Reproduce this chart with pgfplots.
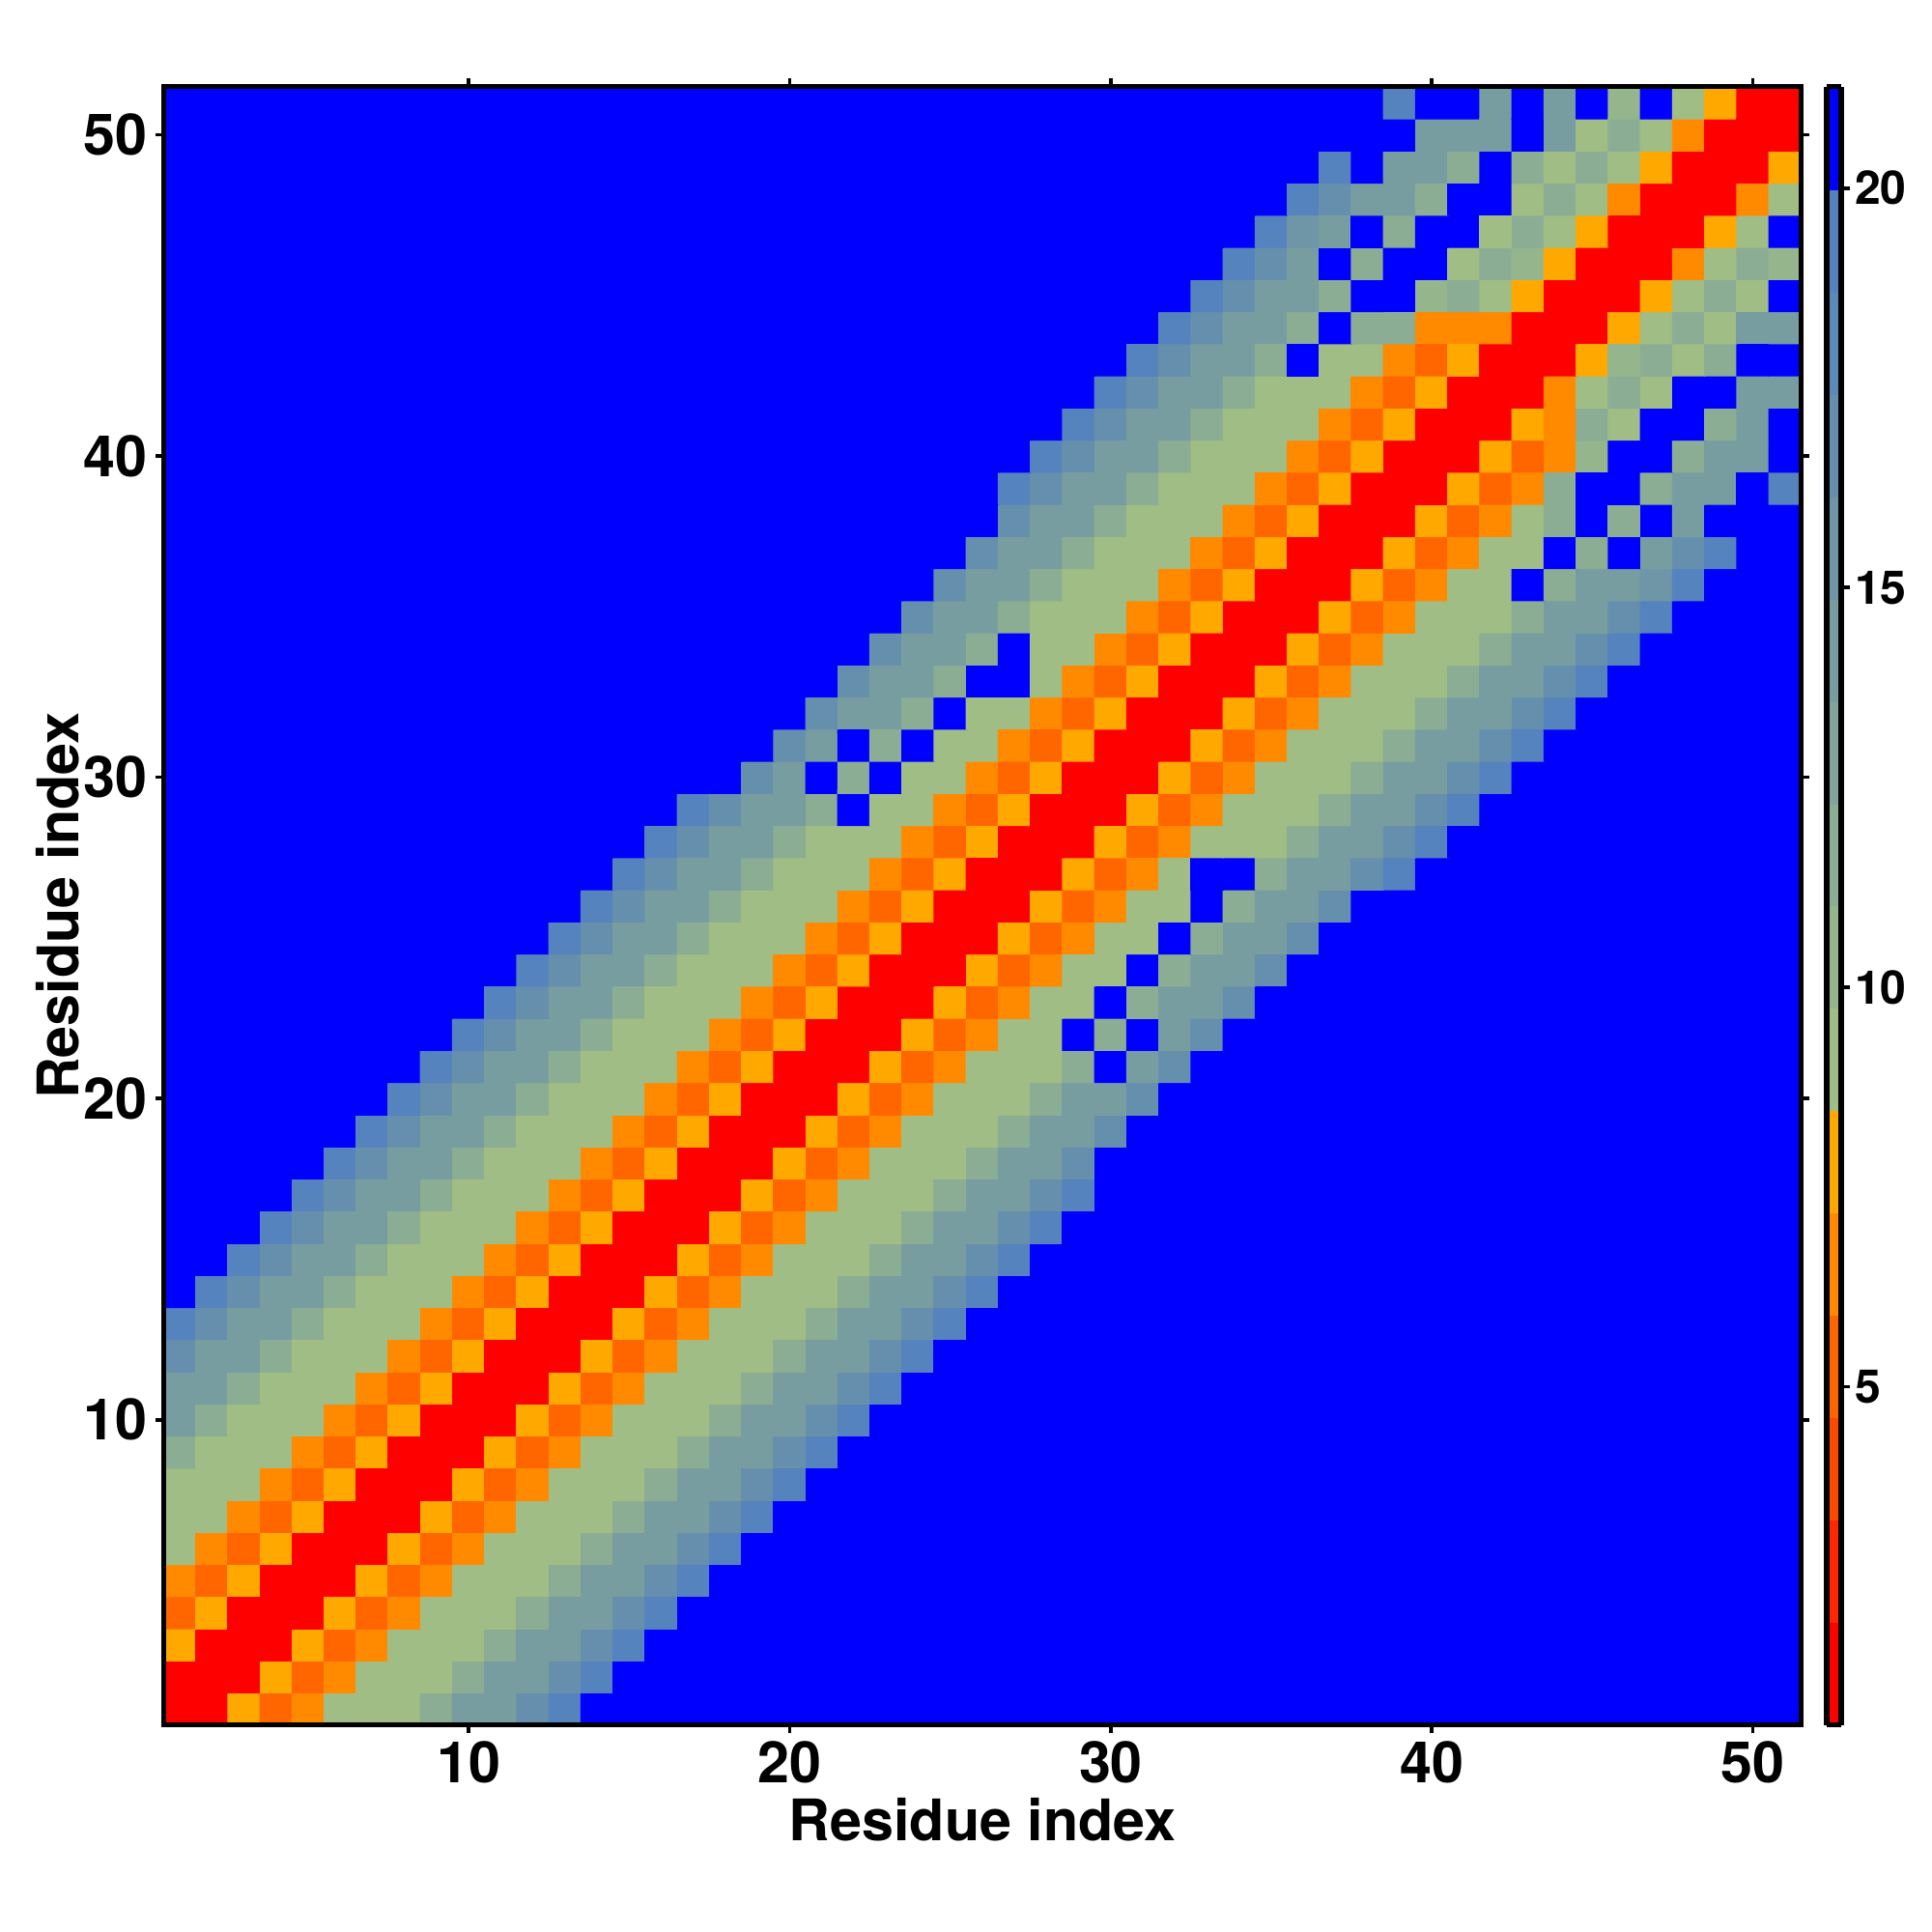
\documentclass[border=0pt]{standalone}
\usepackage{fontspec}
\setmainfont{TeX Gyre Heros}
\usepackage{pgfplots}
\pgfplotsset{compat=1.18}
\pgfplotsset{
  colormap={dist}{
    rgb255=(255,0,0) rgb255=(255,38,0) rgb255=(255,72,0) rgb255=(255,102,0)
    rgb255=(255,138,0) rgb255=(255,168,0) rgb255=(160,189,133) rgb255=(149,181,140)
    rgb255=(139,173,147) rgb255=(129,165,154) rgb255=(120,157,161) rgb255=(111,150,167)
    rgb255=(102,143,174) rgb255=(93,137,182) rgb255=(84,131,189) rgb255=(0,0,255)
  }
}
\begin{document}
\begin{tikzpicture}
\begin{axis}[name=main,
  at={(0,0)}, anchor=south west,
  scale only axis, width=457.7pt, height=458pt,
  xmin=0.5, xmax=51.5, ymin=0.5, ymax=51.5,
  xtick={10,20,30,40,50}, ytick={10,20,30,40,50},
  tick align=outside, major tick length=2.4pt,
  tick style={black, line width=1pt},
  axis line style={line width=1.5pt},
  axis on top,
  /pgf/number format/assume math mode=true,
  tick label style={font=\fontsize{16}{19}\selectfont\bfseries, inner sep=2pt},
  label style={font=\fontsize{16}{19}\selectfont\bfseries},
  xlabel={Residue index}, ylabel={Residue index},
  xlabel style={at={(axis description cs:0.5,-0.058)}, anchor=center},
  ylabel style={at={(axis description cs:-0.0647,0.5)}, anchor=center},
  colormap name=dist, colormap access=piecewise constant,
  point meta min=0.77, point meta max=21.27,
  colorbar,
  colorbar style={
    at={(parent axis.north east)}, anchor=north west, xshift=-1.4pt,
    width=4.1pt,
    ytick={5,10,15,20},
    ytick pos=right, yticklabel pos=right,
    tick align=outside, major tick length=2.4pt,
    tick style={black, line width=1pt},
    axis line style={line width=1.5pt},
    /pgf/number format/assume math mode=true,
    yticklabel style={font=\fontsize{13}{15}\selectfont\bfseries, inner sep=1.2pt},
  },
]
\addplot[matrix plot*, mesh/cols=51, point meta=explicit]
  table[header=false, row sep=\\, x expr={mod(\coordindex,51)+1}, y expr={floor((\coordindex+0.5)/51)+1}, meta index=0] {
1.4\\1.4\\7.8\\5.2\\6.5\\9.1\\9.1\\9.1\\11.6\\14.2\\14.2\\16.8\\19.3\\ 21\\21\\21\\21\\21\\21\\21\\21\\21\\21\\ 21\\21\\21\\21\\21\\21\\21\\21\\21\\21\\ 21\\21\\21\\21\\21\\21\\21\\21\\21\\21\\ 21\\21\\21\\21\\21\\21\\21\\21\\
1.4\\1.4\\ 1.4\\7.8\\5.2\\6.5\\9.1\\9.1\\9.1\\11.6\\14.2\\14.2\\16.8\\19.3\\ 21\\21\\21\\21\\21\\21\\21\\21\\21\\21\\ 21\\21\\21\\21\\21\\21\\21\\21\\21\\21\\ 21\\21\\21\\21\\21\\21\\21\\21\\21\\21\\ 21\\21\\21\\21\\21\\21\\21\\
7.8\\1.4\\1.4\\ 1.4\\7.8\\5.2\\6.5\\9.1\\9.1\\9.1\\11.6\\14.2\\14.2\\16.8\\19.3\\ 21\\21\\21\\21\\21\\21\\21\\21\\21\\21\\ 21\\21\\21\\21\\21\\21\\21\\21\\21\\21\\ 21\\21\\21\\21\\21\\21\\21\\21\\21\\21\\ 21\\21\\21\\21\\21\\21\\
5.2\\7.8\\1.4\\1.4\\ 1.4\\7.8\\5.2\\6.5\\9.1\\9.1\\9.1\\11.6\\14.2\\14.2\\16.8\\19.3\\ 21\\21\\21\\21\\21\\21\\21\\21\\21\\21\\ 21\\21\\21\\21\\21\\21\\21\\21\\21\\21\\ 21\\21\\21\\21\\21\\21\\21\\21\\21\\21\\ 21\\21\\21\\21\\21\\
6.5\\5.2\\7.8\\1.4\\1.4\\ 1.4\\7.8\\5.2\\6.5\\9.1\\9.1\\9.1\\11.6\\14.2\\14.2\\16.8\\19.3\\ 21\\21\\21\\21\\21\\21\\21\\21\\21\\21\\ 21\\21\\21\\21\\21\\21\\21\\21\\21\\21\\ 21\\21\\21\\21\\21\\21\\21\\21\\21\\21\\ 21\\21\\21\\21\\
9.1\\6.5\\5.2\\7.8\\1.4\\1.4\\ 1.4\\7.8\\5.2\\6.5\\9.1\\9.1\\9.1\\11.6\\14.2\\14.2\\16.8\\19.3\\ 21\\21\\21\\21\\21\\21\\21\\21\\21\\21\\ 21\\21\\21\\21\\21\\21\\21\\21\\21\\21\\ 21\\21\\21\\21\\21\\21\\21\\21\\21\\21\\ 21\\21\\21\\
9.1\\9.1\\6.5\\5.2\\7.8\\1.4\\1.4\\ 1.4\\7.8\\5.2\\6.5\\9.1\\9.1\\9.1\\11.6\\14.2\\14.2\\16.8\\19.3\\ 21\\21\\21\\21\\21\\21\\21\\21\\21\\21\\ 21\\21\\21\\21\\21\\21\\21\\21\\21\\21\\ 21\\21\\21\\21\\21\\21\\21\\21\\21\\21\\ 21\\21\\
9.1\\9.1\\9.1\\6.5\\5.2\\7.8\\1.4\\1.4\\ 1.4\\7.8\\5.2\\6.5\\9.1\\9.1\\9.1\\11.6\\14.2\\14.2\\16.8\\19.3\\ 21\\21\\21\\21\\21\\21\\21\\21\\21\\21\\ 21\\21\\21\\21\\21\\21\\21\\21\\21\\21\\ 21\\21\\21\\21\\21\\21\\21\\21\\21\\21\\ 21\\
11.6\\9.1\\9.1\\9.1\\6.5\\5.2\\7.8\\1.4\\1.4\\ 1.4\\7.8\\5.2\\6.5\\9.1\\9.1\\9.1\\11.6\\14.2\\14.2\\16.8\\19.3\\ 21\\21\\21\\21\\21\\21\\21\\21\\21\\21\\ 21\\21\\21\\21\\21\\21\\21\\21\\21\\21\\ 21\\21\\21\\21\\21\\21\\21\\21\\21\\21\\
14.2\\11.6\\9.1\\9.1\\9.1\\6.5\\5.2\\7.8\\1.4\\1.4\\ 1.4\\7.8\\5.2\\6.5\\9.1\\9.1\\9.1\\11.6\\14.2\\14.2\\16.8\\19.3\\ 21\\21\\21\\21\\21\\21\\21\\21\\21\\21\\ 21\\21\\21\\21\\21\\21\\21\\21\\21\\21\\ 21\\21\\21\\21\\21\\21\\21\\21\\21\\
14.2\\14.2\\11.6\\9.1\\9.1\\9.1\\6.5\\5.2\\7.8\\1.4\\1.4\\ 1.4\\7.8\\5.2\\6.5\\9.1\\9.1\\9.1\\11.6\\14.2\\14.2\\16.8\\19.3\\ 21\\21\\21\\21\\21\\21\\21\\21\\21\\21\\ 21\\21\\21\\21\\21\\21\\21\\21\\21\\21\\ 21\\21\\21\\21\\21\\21\\21\\21\\
16.8\\14.2\\14.2\\11.6\\9.1\\9.1\\9.1\\6.5\\5.2\\7.8\\1.4\\1.4\\ 1.4\\7.8\\5.2\\6.5\\9.1\\9.1\\9.1\\11.6\\14.2\\14.2\\16.8\\19.3\\ 21\\21\\21\\21\\21\\21\\21\\21\\21\\21\\ 21\\21\\21\\21\\21\\21\\21\\21\\21\\21\\ 21\\21\\21\\21\\21\\21\\21\\
19.3\\16.8\\14.2\\14.2\\11.6\\9.1\\9.1\\9.1\\6.5\\5.2\\7.8\\1.4\\1.4\\ 1.4\\7.8\\5.2\\6.5\\9.1\\9.1\\9.1\\11.6\\14.2\\14.2\\16.8\\19.3\\ 21\\21\\21\\21\\21\\21\\21\\21\\21\\21\\ 21\\21\\21\\21\\21\\21\\21\\21\\21\\21\\ 21\\21\\21\\21\\21\\21\\
21\\ 19.3\\16.8\\14.2\\14.2\\11.6\\9.1\\9.1\\9.1\\6.5\\5.2\\7.8\\1.4\\1.4\\ 1.4\\7.8\\5.2\\6.5\\9.1\\9.1\\9.1\\11.6\\14.2\\14.2\\16.8\\19.3\\ 21\\21\\21\\21\\21\\21\\21\\21\\21\\21\\ 21\\21\\21\\21\\21\\21\\21\\21\\21\\21\\ 21\\21\\21\\21\\21\\
21\\21\\ 19.3\\16.8\\14.2\\14.2\\11.6\\9.1\\9.1\\9.1\\6.5\\5.2\\7.8\\1.4\\1.4\\ 1.4\\7.8\\5.2\\6.5\\9.1\\9.1\\9.1\\11.6\\14.2\\14.2\\16.8\\19.3\\ 21\\21\\21\\21\\21\\21\\21\\21\\21\\21\\ 21\\21\\21\\21\\21\\21\\21\\21\\21\\21\\ 21\\21\\21\\21\\
21\\21\\21\\ 19.3\\16.8\\14.2\\14.2\\11.6\\9.1\\9.1\\9.1\\6.5\\5.2\\7.8\\1.4\\1.4\\ 1.4\\7.8\\5.2\\6.5\\9.1\\9.1\\9.1\\11.6\\14.2\\14.2\\16.8\\19.3\\ 21\\21\\21\\21\\21\\21\\21\\21\\21\\21\\ 21\\21\\21\\21\\21\\21\\21\\21\\21\\21\\ 21\\21\\21\\
21\\21\\21\\21\\ 19.3\\16.8\\14.2\\14.2\\11.6\\9.1\\9.1\\9.1\\6.5\\5.2\\7.8\\1.4\\1.4\\ 1.4\\7.8\\5.2\\6.5\\9.1\\9.1\\9.1\\11.6\\14.2\\14.2\\16.8\\19.3\\ 21\\21\\21\\21\\21\\21\\21\\21\\21\\21\\ 21\\21\\21\\21\\21\\21\\21\\21\\21\\21\\ 21\\21\\
21\\21\\21\\21\\21\\ 19.3\\16.8\\14.2\\14.2\\11.6\\9.1\\9.1\\9.1\\6.5\\5.2\\7.8\\1.4\\1.4\\ 1.4\\7.8\\5.2\\6.5\\9.1\\9.1\\9.1\\11.6\\14.2\\14.2\\16.8\\ 21\\21\\21\\21\\21\\21\\21\\21\\21\\21\\ 21\\21\\21\\21\\21\\21\\21\\21\\21\\21\\ 21\\21\\
21\\21\\21\\21\\21\\21\\ 19.3\\16.8\\14.2\\14.2\\11.6\\9.1\\9.1\\9.1\\6.5\\5.2\\7.8\\1.4\\1.4\\ 1.4\\7.8\\5.2\\6.5\\9.1\\9.1\\9.1\\11.6\\14.2\\14.2\\16.8\\ 21\\21\\21\\21\\21\\21\\21\\21\\21\\21\\ 21\\21\\21\\21\\21\\21\\21\\21\\21\\21\\ 21\\
21\\21\\21\\21\\21\\21\\21\\ 19.3\\16.8\\14.2\\14.2\\11.6\\9.1\\9.1\\9.1\\6.5\\5.2\\7.8\\1.4\\1.4\\ 1.4\\7.8\\5.2\\6.5\\9.1\\9.1\\9.1\\11.6\\14.2\\14.2\\16.8\\ 21\\21\\21\\21\\21\\21\\21\\21\\21\\21\\ 21\\21\\21\\21\\21\\21\\21\\21\\21\\21\\
21\\21\\21\\21\\21\\21\\21\\21\\ 19.3\\16.8\\14.2\\14.2\\11.6\\9.1\\9.1\\9.1\\6.5\\5.2\\7.8\\1.4\\1.4\\ 1.4\\7.8\\5.2\\6.5\\9.1\\9.1\\9.1\\11.6\\21\\14.2\\16.8\\ 21\\21\\21\\21\\21\\21\\21\\21\\21\\21\\ 21\\21\\21\\21\\21\\21\\21\\21\\21\\
21\\21\\21\\21\\21\\21\\21\\21\\21\\ 19.3\\16.8\\14.2\\14.2\\11.6\\9.1\\9.1\\9.1\\6.5\\5.2\\7.8\\1.4\\1.4\\ 1.4\\7.8\\5.2\\6.5\\9.1\\9.1\\21\\11.6\\21\\14.2\\16.8\\ 21\\21\\21\\21\\21\\21\\21\\21\\21\\21\\ 21\\21\\21\\21\\21\\21\\21\\21\\
21\\21\\21\\21\\21\\21\\21\\21\\21\\21\\ 19.3\\16.8\\14.2\\14.2\\11.6\\9.1\\9.1\\9.1\\6.5\\5.2\\7.8\\1.4\\1.4\\ 1.4\\7.8\\5.2\\6.5\\9.1\\9.1\\21\\11.6\\14.2\\14.2\\16.8\\ 21\\21\\21\\21\\21\\21\\21\\21\\21\\21\\ 21\\21\\21\\21\\21\\21\\21\\
21\\21\\21\\21\\21\\21\\21\\21\\21\\21\\ 21\\ 19.3\\16.8\\14.2\\14.2\\11.6\\9.1\\9.1\\9.1\\6.5\\5.2\\7.8\\1.4\\1.4\\ 1.4\\7.8\\5.2\\6.5\\9.1\\9.1\\21\\11.6\\14.2\\14.2\\16.8\\ 21\\21\\21\\21\\21\\21\\21\\21\\21\\21\\ 21\\21\\21\\21\\21\\21\\
21\\21\\21\\21\\21\\21\\21\\21\\21\\21\\ 21\\21\\ 19.3\\16.8\\14.2\\14.2\\11.6\\9.1\\9.1\\9.1\\6.5\\5.2\\7.8\\1.4\\1.4\\ 1.4\\7.8\\5.2\\6.5\\9.1\\9.1\\21\\11.6\\14.2\\14.2\\16.8\\ 21\\21\\21\\21\\21\\21\\21\\21\\21\\21\\ 21\\21\\21\\21\\21\\
21\\21\\21\\21\\21\\21\\21\\21\\21\\21\\ 21\\21\\21\\ 19.3\\16.8\\14.2\\14.2\\11.6\\9.1\\9.1\\9.1\\6.5\\5.2\\7.8\\1.4\\1.4\\ 1.4\\7.8\\5.2\\6.5\\9.1\\9.1\\21\\11.6\\14.2\\14.2\\16.8\\ 21\\21\\21\\21\\21\\21\\21\\21\\21\\21\\ 21\\21\\21\\21\\
21\\21\\21\\21\\21\\21\\21\\21\\21\\21\\ 21\\21\\21\\21\\ 19.3\\16.8\\14.2\\14.2\\11.6\\9.1\\9.1\\9.1\\6.5\\5.2\\7.8\\1.4\\1.4\\ 1.4\\7.8\\5.2\\6.5\\9.1\\21\\21\\11.6\\14.2\\14.2\\16.8\\19.3\\ 21\\21\\21\\21\\21\\21\\21\\21\\21\\21\\ 21\\21\\
21\\21\\21\\21\\21\\21\\21\\21\\21\\21\\ 21\\21\\21\\21\\21\\ 19.3\\16.8\\14.2\\14.2\\11.6\\9.1\\9.1\\9.1\\6.5\\5.2\\7.8\\1.4\\1.4\\ 1.4\\7.8\\5.2\\6.5\\9.1\\9.1\\9.1\\11.6\\14.2\\14.2\\16.8\\19.3\\ 21\\21\\21\\21\\21\\21\\21\\21\\21\\21\\ 21\\
21\\21\\21\\21\\21\\21\\21\\21\\21\\21\\ 21\\21\\21\\21\\21\\21\\ 19.3\\16.8\\14.2\\14.2\\11.6\\21\\9.1\\9.1\\6.5\\5.2\\7.8\\1.4\\1.4\\ 1.4\\7.8\\5.2\\6.5\\9.1\\9.1\\9.1\\11.6\\14.2\\14.2\\16.8\\19.3\\ 21\\21\\21\\21\\21\\21\\21\\21\\21\\21\\
21\\21\\21\\21\\21\\21\\21\\21\\21\\21\\ 21\\21\\21\\21\\21\\21\\21\\21\\ 16.8\\14.2\\21\\11.6\\21\\9.1\\9.1\\6.5\\5.2\\7.8\\1.4\\1.4\\ 1.4\\7.8\\5.2\\6.5\\9.1\\9.1\\9.1\\11.6\\14.2\\14.2\\16.8\\19.3\\ 21\\21\\21\\21\\21\\21\\21\\21\\21\\
21\\21\\21\\21\\21\\21\\21\\21\\21\\21\\ 21\\21\\21\\21\\21\\21\\21\\21\\21\\ 16.8\\14.2\\21\\11.6\\21\\9.1\\9.1\\6.5\\5.2\\7.8\\1.4\\1.4\\ 1.4\\7.8\\5.2\\6.5\\9.1\\9.1\\9.1\\11.6\\14.2\\14.2\\16.8\\19.3\\ 21\\21\\21\\21\\21\\21\\21\\21\\
21\\21\\21\\21\\21\\21\\21\\21\\21\\21\\ 21\\21\\21\\21\\21\\21\\21\\21\\21\\21\\ 16.8\\14.2\\14.2\\11.6\\21\\9.1\\9.1\\6.5\\5.2\\7.8\\1.4\\1.4\\ 1.4\\7.8\\5.2\\6.5\\9.1\\9.1\\9.1\\11.6\\14.2\\14.2\\16.8\\19.3\\ 21\\21\\21\\21\\21\\21\\21\\
21\\21\\21\\21\\21\\21\\21\\21\\21\\21\\ 21\\21\\21\\21\\21\\21\\21\\21\\21\\21\\ 21\\ 16.8\\14.2\\14.2\\11.6\\21\\21\\9.1\\6.5\\5.2\\7.8\\1.4\\1.4\\ 1.4\\7.8\\5.2\\6.5\\9.1\\9.1\\9.1\\11.6\\14.2\\14.2\\16.8\\19.3\\ 21\\21\\21\\21\\21\\21\\
21\\21\\21\\21\\21\\21\\21\\21\\21\\21\\ 21\\21\\21\\21\\21\\21\\21\\21\\21\\21\\ 21\\21\\ 16.8\\14.2\\14.2\\11.6\\21\\9.1\\9.1\\6.5\\5.2\\7.8\\1.4\\1.4\\ 1.4\\7.8\\5.2\\6.5\\9.1\\9.1\\9.1\\11.6\\14.2\\14.2\\16.8\\19.3\\ 21\\21\\21\\21\\21\\
21\\21\\21\\21\\21\\21\\21\\21\\21\\21\\ 21\\21\\21\\21\\21\\21\\21\\21\\21\\21\\ 21\\21\\21\\ 16.8\\14.2\\14.2\\11.6\\9.1\\9.1\\9.1\\6.5\\5.2\\7.8\\1.4\\1.4\\ 1.4\\7.8\\5.2\\6.5\\9.1\\9.1\\9.1\\11.6\\14.2\\14.2\\16.8\\19.3\\ 21\\21\\21\\21\\
21\\21\\21\\21\\21\\21\\21\\21\\21\\21\\ 21\\21\\21\\21\\21\\21\\21\\21\\21\\21\\ 21\\21\\21\\21\\ 16.8\\14.2\\14.2\\11.6\\9.1\\9.1\\9.1\\6.5\\5.2\\7.8\\1.4\\1.4\\ 1.4\\7.8\\5.2\\6.5\\9.1\\9.1\\21\\11.6\\14.2\\14.2\\15.5\\19.3\\ 21\\21\\21\\
21\\21\\21\\21\\21\\21\\21\\21\\21\\21\\ 21\\21\\21\\21\\21\\21\\21\\21\\21\\21\\ 21\\21\\21\\21\\21\\ 16.8\\14.2\\14.2\\11.6\\9.1\\9.1\\9.1\\6.5\\5.2\\7.8\\1.4\\1.4\\ 1.4\\7.8\\5.2\\6.5\\9.1\\9.1\\21\\11.6\\21\\14.2\\16.8\\19.3\\ 21\\21\\
21\\21\\21\\21\\21\\21\\21\\21\\21\\21\\ 21\\21\\21\\21\\21\\21\\21\\21\\21\\21\\ 21\\21\\21\\21\\21\\21\\ 16.8\\14.2\\14.2\\11.6\\9.1\\9.1\\9.1\\6.5\\5.2\\7.8\\1.4\\1.4\\ 1.4\\7.8\\5.2\\6.5\\9.1\\11.6\\21\\11.6\\21\\14.2\\21\\21\\21\\
21\\21\\21\\21\\21\\21\\21\\21\\21\\21\\ 21\\21\\21\\21\\21\\21\\21\\21\\21\\21\\ 21\\21\\21\\21\\21\\21\\ 19.3\\16.8\\14.2\\14.2\\11.6\\9.1\\9.1\\9.1\\6.5\\5.2\\7.8\\1.4\\1.4\\1.4\\7.8\\5.2\\6.5\\11.6\\21\\21\\11.6\\14.2\\14.2\\21\\19.3\\
21\\21\\21\\21\\21\\21\\21\\21\\21\\21\\ 21\\21\\21\\21\\21\\21\\21\\21\\21\\21\\ 21\\21\\21\\21\\21\\21\\21\\ 19.3\\16.8\\14.2\\14.2\\11.6\\9.1\\9.1\\9.1\\6.5\\5.2\\7.8\\1.4\\1.4\\1.4\\7.8\\5.2\\6.5\\10.4\\21\\21\\11.6\\14.2\\14.2\\21\\
21\\21\\21\\21\\21\\21\\21\\21\\21\\21\\ 21\\21\\21\\21\\21\\21\\21\\21\\21\\21\\ 21\\21\\21\\21\\21\\21\\21\\21\\ 19.3\\16.8\\14.2\\14.2\\11.6\\9.1\\9.1\\9.1\\6.5\\5.2\\7.8\\1.4\\1.4\\1.4\\7.8\\6.5\\11.6\\9.1\\21\\21\\11.6\\14.2\\21\\
21\\21\\21\\21\\21\\21\\21\\21\\21\\21\\ 21\\21\\21\\21\\21\\21\\21\\21\\21\\21\\ 21\\21\\21\\21\\21\\21\\21\\21\\21\\ 19.3\\16.8\\14.2\\14.2\\11.6\\9.1\\9.1\\9.1\\6.5\\5.2\\7.8\\1.4\\1.4\\1.4\\6.5\\9.1\\11.6\\9.1\\21\\21\\14.2\\14.2\\
21\\21\\21\\21\\21\\21\\21\\21\\21\\21\\ 21\\21\\21\\21\\21\\21\\21\\21\\21\\21\\ 21\\21\\21\\21\\21\\21\\21\\21\\21\\21\\ 19.3\\16.8\\14.2\\14.2\\11.6\\21\\9.1\\9.1\\6.5\\5.2\\7.8\\1.4\\1.4\\1.4\\7.8\\10.4\\11.6\\9.1\\11.6\\21\\21\\
21\\21\\21\\21\\21\\21\\21\\21\\21\\21\\ 21\\21\\21\\21\\21\\21\\21\\21\\21\\21\\ 21\\21\\21\\21\\21\\21\\21\\21\\21\\21\\ 21\\ 19.3\\16.8\\14.2\\14.2\\11.6\\21\\11.6\\11.6\\6.5\\6.5\\6.5\\1.4\\1.4\\1.4\\7.8\\9.1\\11.6\\9.1\\14.2\\14.2\\
21\\21\\21\\21\\21\\21\\21\\21\\21\\21\\ 21\\21\\21\\21\\21\\21\\21\\21\\21\\21\\ 21\\21\\21\\21\\21\\21\\21\\21\\21\\21\\ 21\\21\\ 19.3\\16.8\\14.2\\14.2\\11.6\\21\\21\\10.4\\11.6\\9.1\\7.8\\1.4\\1.4\\1.4\\7.8\\9.1\\11.6\\9.1\\21\\
21\\21\\21\\21\\21\\21\\21\\21\\21\\21\\ 21\\21\\21\\21\\21\\21\\21\\21\\21\\21\\ 21\\21\\21\\21\\21\\21\\21\\21\\21\\21\\ 21\\21\\21\\ 19.3\\16.8\\14.2\\21\\11.6\\21\\21\\9.1\\11.6\\10.4\\7.8\\1.4\\1.4\\1.4\\6.5\\9.1\\11.6\\10.4\\
21\\21\\21\\21\\21\\21\\21\\21\\21\\21\\ 21\\21\\21\\21\\21\\21\\21\\21\\21\\21\\ 21\\21\\21\\21\\21\\21\\21\\21\\21\\21\\ 21\\21\\21\\21\\ 19.3\\15.5\\14.2\\21\\11.6\\21\\21\\9.1\\11.6\\9.1\\7.8\\1.4\\1.4\\1.4\\7.8\\9.1\\21\\
21\\21\\21\\21\\21\\21\\21\\21\\21\\21\\ 21\\21\\21\\21\\21\\21\\21\\21\\21\\21\\ 21\\21\\21\\21\\21\\21\\21\\21\\21\\21\\ 21\\21\\21\\21\\21\\ 19.3\\16.8\\14.2\\14.2\\11.6\\21\\21\\9.1\\11.6\\9.1\\6.5\\1.4\\1.4\\1.4\\6.5\\9.1\\
21\\21\\21\\21\\21\\21\\21\\21\\21\\21\\ 21\\21\\21\\21\\21\\21\\21\\21\\21\\21\\ 21\\21\\21\\21\\21\\21\\21\\21\\21\\21\\ 21\\21\\21\\21\\21\\21\\ 19.3\\21\\14.2\\14.2\\11.6\\21\\11.6\\9.1\\11.6\\9.1\\7.8\\1.4\\1.4\\1.4\\7.8\\
21\\21\\21\\21\\21\\21\\21\\21\\21\\21\\ 21\\21\\21\\21\\21\\21\\21\\21\\21\\21\\ 21\\21\\21\\21\\21\\21\\21\\21\\21\\21\\ 21\\21\\21\\21\\21\\21\\21\\21\\21\\ 14.2\\14.2\\14.2\\21\\14.2\\9.1\\11.6\\9.1\\6.5\\1.4\\1.4\\1.4\\
21\\21\\21\\21\\21\\21\\21\\21\\21\\21\\ 21\\21\\21\\21\\21\\21\\21\\21\\21\\21\\ 21\\21\\21\\21\\21\\21\\21\\21\\21\\21\\ 21\\21\\21\\21\\21\\21\\21\\21\\ 19.3\\21\\21\\14.2\\21\\14.2\\21\\10.4\\21\\9.1\\7.8\\1.4\\1.4\\
};
\end{axis}
\path ([shift={(-45.8pt,-57.9pt)}]main.south west) rectangle ([shift={(36.5pt,24.2pt)}]main.north east);
\end{tikzpicture}
\end{document}
